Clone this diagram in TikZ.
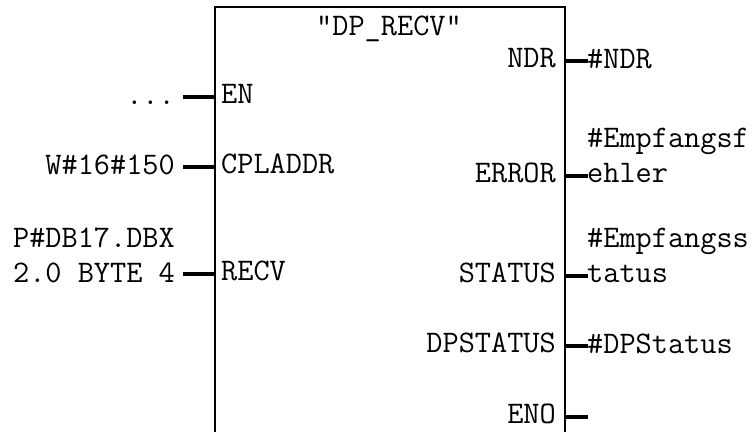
\documentclass[tikz,border=0pt]{standalone}
\usepackage{fontspec}
\usetikzlibrary{positioning}

\begin{document}
\begin{tikzpicture}[x=1pt, y=-1pt,
	lbl/.style={font=\ttfamily\fontsize{31.4}{35}\selectfont, inner sep=0pt},
	fbox/.style={rectangle, minimum width=350pt, minimum height=425pt,
	             inner sep=0pt, outer sep=0pt},
	frame/.style={draw=black, line width=2pt},
	pinline/.style={draw=black, line width=4.5pt}
	]
\useasboundingbox (0,0) rectangle (755,432);

% Baustein, unten offen
\node[fbox, anchor=north west] (fb) at (215,7) {};
\draw[frame] (fb.south west) -- (fb.north west) -- (fb.north east) -- (fb.south east);
\node[lbl, anchor=base] (title) at (389,35) {"DP\_RECV"};

% Eingaenge
\foreach \y/\pname/\ptxt in {97/en/EN, 167/cpl/CPLADDR, 274/recv/RECV} {
	\node[lbl, anchor=base west] (\pname) at (221,\y+6) {\ptxt};
	\coordinate (in-\pname) at (183,\y);
	\draw[pinline] (fb.west |- in-\pname) -- (in-\pname);
}
\node[lbl, anchor=base east] (op-en) at (175,104) {...};
\node[lbl, anchor=base east] (op-cpl) at (175,174) {W\#16\#150};
\node[lbl, anchor=south east, align=left] (op-recv) at (175,283) {P\#DB17.DBX\\2.0 BYTE 4};

% Ausgaenge
\foreach \y/\pname/\ptxt in {61/ndr/NDR, 176/err/ERROR, 276/stat/STATUS, 346/dps/DPSTATUS, 417/eno/ENO} {
	\node[lbl, anchor=base east] (\pname) at (556,\y+6) {\ptxt};
	\coordinate (out-\pname) at (588,\y);
	\draw[pinline] (fb.east |- out-\pname) -- (out-\pname);
}
\node[lbl, anchor=base west] (op-ndr) at (587,68) {\#NDR};
\node[lbl, anchor=south west, align=left] (op-err) at (587,183) {\#Empfangsf\\ehler};
\node[lbl, anchor=south west, align=left] (op-stat) at (587,283) {\#Empfangss\\tatus};
\node[lbl, anchor=base west] (op-dps) at (587,353) {\#DPStatus};

\end{tikzpicture}
\end{document}
